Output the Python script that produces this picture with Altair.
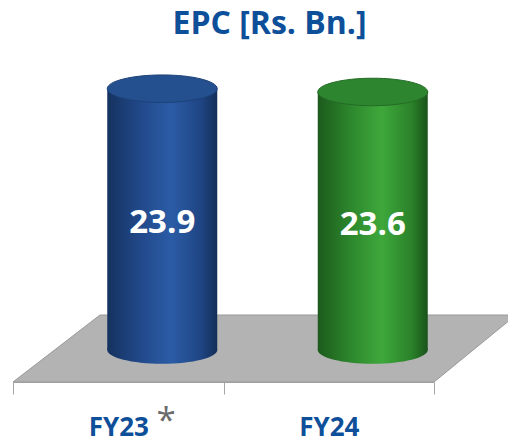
import altair as alt
import pandas as pd

# ---- data ----
categories = ["FY23", "FY24"]
values = [23.9, 23.6]
value_labels = ["23.9", "23.6"]
notes = ["*", ""]
chart_title = "EPC [Rs. Bn.]"

# ---- styles ----
body_stops = [
    [("#15325f", 0.0), ("#21498a", 0.3), ("#2b5ca6", 0.58), ("#1f4584", 0.85), ("#132e58", 1.0)],
    [("#1c5a1c", 0.0), ("#2d872d", 0.3), ("#3ea83b", 0.58), ("#2b822a", 0.85), ("#1a531a", 1.0)],
]
top_fill = ["#24508f", "#2e8530"]
top_stroke = ["#1c4178", "#246c25"]
title_color = "#0E4F9A"
font = "Open Sans"

plot_w, plot_h = 421, 328
depth_dx, depth_dy = 44, -32        # 3-D depth offset of the bars (px)
cyl_w = 110
ELLIPSE = "M -1 0 A 1 0.25 0 1 1 1 0 A 1 0.25 0 1 1 -1 0 Z"
half = plot_w / 2
FLOOR = f"M {-half} 0 L {half} 0 L {half + 82} -67 L {-half + 87} -67 Z"

df = pd.DataFrame({"cat": categories, "value": values, "label": value_labels, "note": notes})

xscale = alt.Scale(domain=categories, paddingInner=0, paddingOuter=0)
yscale = alt.Scale(domain=[0, 30], nice=False, zero=True)
xaxis = alt.Axis(title=None, labelAngle=0, labelFont=font, labelFontSize=26,
                 labelFontWeight="bold", labelColor=title_color,
                 labelBaseline="alphabetic", labelPadding=41, tickSize=12,
                 tickBand="extent", tickColor="#A6A6A6", domainColor="#A6A6A6",
                 grid=False)


def X(**kw):
    return alt.X("cat:N", scale=xscale, axis=xaxis, **kw)


def Y(field):
    return alt.Y(field, scale=yscale, axis=None)


base = alt.Chart(df).transform_calculate(base="0", mid="datum.value / 2")

layers = []
# floor
layers.append(
    base.transform_filter(f"datum.cat == '{categories[1]}'")
    .mark_point(shape=FLOOR, size=4, filled=True, fill="#B3B3B3",
                stroke="#999999", strokeWidth=1, opacity=1)
    .encode(x=X(bandPosition=0), y=Y("base:Q"))
)

for i, c in enumerate(categories):
    grad = alt.Gradient(gradient="linear", x1=0, y1=0, x2=1, y2=0,
                        stops=[alt.GradientStop(color=col, offset=o) for col, o in body_stops[i]])
    sub = base.transform_filter(f"datum.cat == '{c}'")
    layers.append(
        sub.mark_point(shape=ELLIPSE, size=cyl_w ** 2, filled=True, fill=grad,
                       strokeWidth=0, opacity=1, xOffset=depth_dx, yOffset=depth_dy)
        .encode(x=X(), y=Y("base:Q"))
    )
    layers.append(
        sub.mark_bar(width=cyl_w, fill=grad, xOffset=depth_dx,
                     yOffset=depth_dy, y2Offset=depth_dy)
        .encode(x=X(), y=Y("value:Q"), y2="base:Q")
    )
    layers.append(
        sub.mark_point(shape=ELLIPSE, size=cyl_w ** 2, filled=True, fill=top_fill[i],
                       stroke=top_stroke[i], strokeWidth=1, opacity=1,
                       xOffset=depth_dx, yOffset=depth_dy)
        .encode(x=X(), y=Y("value:Q"))
    )

layers.append(
    base.mark_text(font=font, fontSize=33, fontWeight="bold", color="white",
                   align="center", baseline="alphabetic",
                   xOffset=depth_dx, yOffset=-18)
    .encode(x=X(), y=Y("mid:Q"), text="label:N")
)
layers.append(
    base.transform_filter("datum.note != ''")
    .mark_text(font=font, fontSize=35, color="#6B6B6B", align="center",
               baseline="alphabetic", xOffset=48, yOffset=50)
    .encode(x=X(), y=Y("base:Q"), text="note:N")
)

chart = (
    alt.layer(*layers)
    .properties(
        width=plot_w, height=plot_h,
        autosize=alt.AutoSizeParams(type="none"),
        padding={"left": 5, "top": 46, "right": 74, "bottom": 56},
        title=alt.TitleParams(chart_title, font=font, fontSize=32, fontWeight="bold",
                              color=title_color, anchor="middle", dx=46, offset=13),
    )
    .configure_view(stroke=None)
)

chart.save("out.html", embed_options={"renderer": "svg", "actions": False})
